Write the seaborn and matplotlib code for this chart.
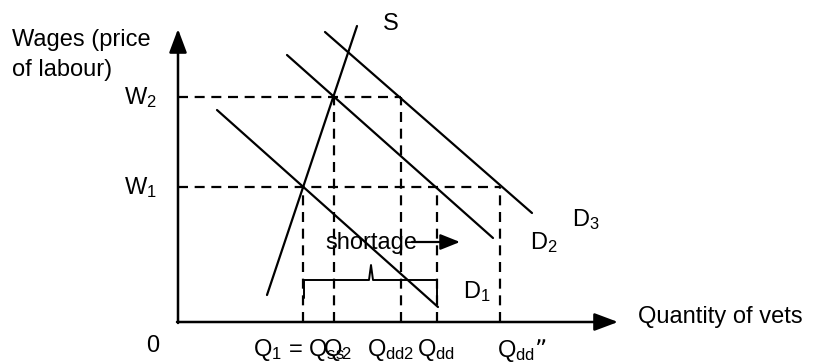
import numpy as np
import pandas as pd
import matplotlib
matplotlib.use("Agg")
import matplotlib.pyplot as plt
import seaborn as sns

# 수요/공급 곡선 (양 끝점)
curve_names = ["S", "D1", "D2", "D3"]
curve_x = [[8.9, 17.9], [3.9, 26.0], [10.9, 31.5], [14.7, 35.4]]
curve_y = [[2.7, 29.6], [21.2, 1.5], [26.7, 8.4], [29.0, 10.9]]

# 임금 수준과 수량 수준
wage_labels = ["W$_2$", "W$_1$"]
wage_values = [22.5, 13.5]
qty_names = ["Q1", "Q2", "Qdd2", "Qdd", "Qdd''"]
qty_values = [12.5, 15.6, 22.3, 25.9, 32.2]
qty_wage = [13.5, 22.5, 22.5, 13.5, 13.5]   # 점선이 올라가는 높이
wage_extent = [22.3, 32.2]                   # 가로 점선의 끝

tick_texts = ["Q$_1$ = Q$_{ss}$", "Q$_2$", "Q$_{dd2}$", "Q$_{dd}$", "Q$_{dd}$\u201d"]
tick_x = [7.5, 14.5, 18.9, 23.9, 31.9]

curve_label_x = [20.5, 28.5, 35.2, 39.4]
curve_label_y = [29.8, 3.0, 7.9, 10.2]
curve_label_txt = ["S", "D$_1$", "D$_2$", "D$_3$"]

sns.set_theme(style="white")
plt.rcParams['font.family'] = ['Liberation Sans', 'DejaVu Sans']
plt.rcParams['mathtext.default'] = 'regular'
plt.rcParams['text.color'] = 'black'

fig = plt.figure(figsize=(8.15, 3.63), dpi=100)
ax = fig.add_axes([0, 0, 1, 1])
ax.set_xlim(-17.8, 63.7)
ax.set_ylim(-4.1, 32.2)
ax.axis("off")

rows = []
for name, xs, ys in zip(curve_names, curve_x, curve_y):
    for xv, yv in zip(xs, ys):
        rows.append({"curve": name, "q": xv, "w": yv})
df = pd.DataFrame(rows)
sns.lineplot(data=df, x="q", y="w", units="curve", estimator=None,
             color="black", lw=1.6, sort=False, ax=ax, legend=False)

dash = dict(color="black", lw=1.6, ls=(0, (4.5, 3)))
for w, xe in zip(wage_values, wage_extent):
    ax.plot([0, xe], [w, w], **dash)
for q, w in zip(qty_values, qty_wage):
    ax.plot([q, q], [0, w], **dash)

# 축 화살표
arr = dict(arrowstyle="-|>,head_length=1.2,head_width=0.45", color="black", lw=1.8,
           shrinkA=0, shrinkB=0)
ax.annotate("", xy=(0, 29.3), xytext=(0, -0.1), arrowprops=arr)
ax.annotate("", xy=(44.0, 0), xytext=(-0.1, 0), arrowprops=arr)

fs = 17
ax.text(-16.6, 28.2, "Wages (price", fontsize=fs, va="center", ha="left")
ax.text(-16.6, 25.2, "of labour)", fontsize=fs, va="center", ha="left")
for lab, w in zip(wage_labels, wage_values):
    ax.text(-2.1, w - 0.1, lab, fontsize=fs, va="center", ha="right")
ax.text(-2.5, -2.4, "0", fontsize=fs, va="center", ha="center")
for t, xv in zip(tick_texts, tick_x):
    ax.text(xv, -2.8, t, fontsize=fs, va="center", ha="left")
ax.text(46.0, 0.5, "Quantity of vets", fontsize=fs, va="center", ha="left")
for t, xv, yv in zip(curve_label_txt, curve_label_x, curve_label_y):
    ax.text(xv, yv, t, fontsize=fs, va="center", ha="left")

# 부족분 표시
ax.text(19.3, 7.9, "shortage", fontsize=fs, va="center", ha="center")
ax.annotate("", xy=(28.2, 8.0), xytext=(23.4, 8.0),
            arrowprops=dict(arrowstyle="-|>,head_length=1.0,head_width=0.4",
                            color="black", lw=1.6, shrinkA=0, shrinkB=0))
bx = [12.6, 12.6, 19.1, 19.3, 19.5, 25.9, 25.9]
by = [2.4, 4.2, 4.2, 5.7, 4.2, 4.2, 2.0]
ax.plot(bx, by, color="black", lw=1.4)

fig.savefig("out.png", dpi=100)
